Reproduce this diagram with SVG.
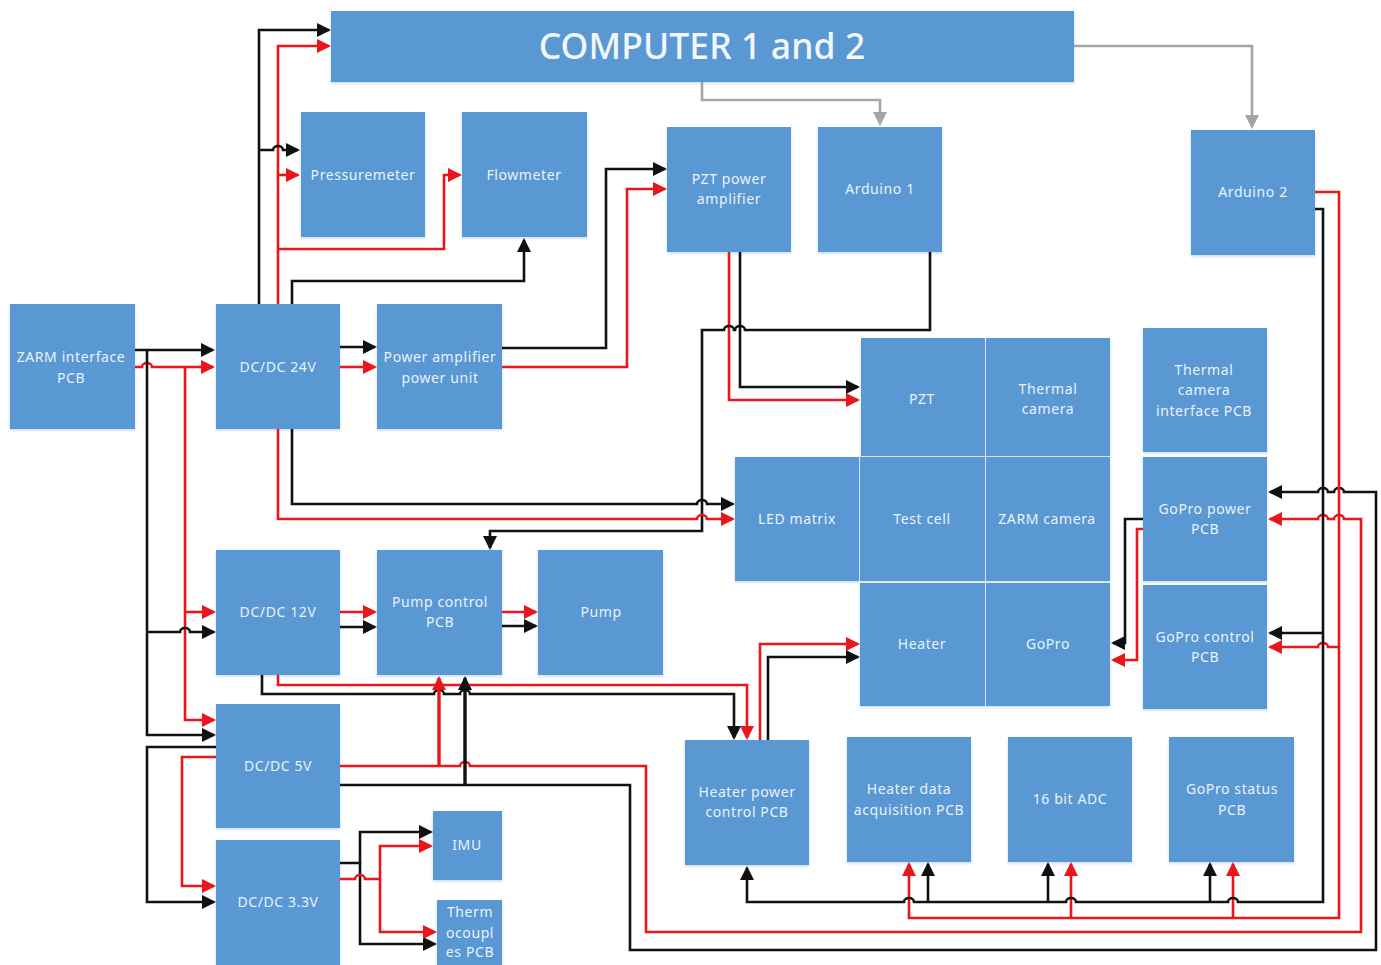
<svg xmlns="http://www.w3.org/2000/svg" width="1381" height="965" viewBox="0 0 1381 965">
<style>
.n{fill:#5a98d3;filter:url(#s)}
text{font-family:"Noto Sans","Open Sans","Liberation Sans",sans-serif;font-size:14px;letter-spacing:.6px;fill:#e9f2fa;text-anchor:middle}
.t{font-size:35.5px;letter-spacing:.1px;fill:#f2f7fc;font-weight:500}
path{fill:none;stroke-width:2.6;stroke-linejoin:miter}
.k{stroke:#111}.r{stroke:#e9161c}.g{stroke:#a5a5a5}
.ka{stroke:#111;marker-end:url(#mk)}.ra{stroke:#e9161c;marker-end:url(#mr)}.ga{stroke:#a5a5a5;marker-end:url(#mg)}
</style>
<defs>
<filter id="s" x="-5%" y="-5%" width="110%" height="112%"><feDropShadow dx="0" dy="1.5" stdDeviation="1.5" flood-color="#5b9bd5" flood-opacity=".35"/></filter>
<marker id="mk" markerUnits="userSpaceOnUse" markerWidth="16" markerHeight="15" refX="12" refY="7.5" orient="auto"><path d="M0,.5L14,7.5L0,14.5z" style="fill:#111;stroke:none"/></marker>
<marker id="mr" markerUnits="userSpaceOnUse" markerWidth="16" markerHeight="15" refX="12" refY="7.5" orient="auto"><path d="M0,.5L14,7.5L0,14.5z" style="fill:#e9161c;stroke:none"/></marker>
<marker id="mg" markerUnits="userSpaceOnUse" markerWidth="16" markerHeight="15" refX="12" refY="7.5" orient="auto"><path d="M0,.5L14,7.5L0,14.5z" style="fill:#a5a5a5;stroke:none"/></marker>
</defs>
<g id="computer"><rect class="n" x="331" y="11" width="743" height="71"/><text class="t" x="702" y="59">COMPUTER 1 and 2</text></g>
<g id="pressuremeter"><rect class="n" x="301" y="112" width="124" height="125"/><text x="363" y="180">Pressuremeter</text></g>
<g id="flowmeter"><rect class="n" x="462" y="112" width="125" height="125"/><text x="524" y="180">Flowmeter</text></g>
<g id="pzt-amp"><rect class="n" x="667" y="127" width="124" height="125"/><text x="729" y="184">PZT power</text><text x="729" y="204">amplifier</text></g>
<g id="arduino1"><rect class="n" x="818" y="127" width="124" height="125"/><text x="880" y="194">Arduino 1</text></g>
<g id="arduino2"><rect class="n" x="1191" y="130" width="124" height="125"/><text x="1253" y="197">Arduino 2</text></g>
<g id="zarm-pcb"><rect class="n" x="10" y="304" width="125" height="125"/><text x="71" y="362">ZARM interface</text><text x="71" y="383">PCB</text></g>
<g id="dc24"><rect class="n" x="216" y="304" width="124" height="125"/><text x="278" y="372">DC/DC 24V</text></g>
<g id="pump-amp"><rect class="n" x="377" y="304" width="125" height="125"/><text x="440" y="362">Power amplifier</text><text x="440" y="383">power unit</text></g>
<g id="pzt"><rect class="n" x="861" y="338" width="124" height="118"/><text x="922" y="404">PZT</text></g>
<g id="thermal-camera"><rect class="n" x="986" y="338" width="124" height="118"/><text x="1048" y="394">Thermal</text><text x="1048" y="414">camera</text></g>
<g id="thermal-pcb"><rect class="n" x="1143" y="328" width="124" height="124"/><text x="1204" y="375">Thermal</text><text x="1204" y="395">camera</text><text x="1204" y="416">interface PCB</text></g>
<g id="led"><rect class="n" x="735" y="457" width="124" height="124"/><text x="797" y="524">LED matrix</text></g>
<g id="test-cell"><rect class="n" x="860" y="457" width="125" height="124"/><text x="922" y="524">Test cell</text></g>
<g id="zarm-camera"><rect class="n" x="986" y="457" width="124" height="124"/><text x="1047" y="524">ZARM camera</text></g>
<g id="gopro-power"><rect class="n" x="1143" y="457" width="124" height="124"/><text x="1205" y="514">GoPro power</text><text x="1205" y="534">PCB</text></g>
<g id="dc12"><rect class="n" x="216" y="550" width="124" height="125"/><text x="278" y="617">DC/DC 12V</text></g>
<g id="pump-control"><rect class="n" x="377" y="550" width="125" height="125"/><text x="440" y="607">Pump control</text><text x="440" y="627">PCB</text></g>
<g id="pump"><rect class="n" x="538" y="550" width="125" height="125"/><text x="601" y="617">Pump</text></g>
<g id="heater"><rect class="n" x="860" y="583" width="125" height="123"/><text x="922" y="649">Heater</text></g>
<g id="gopro"><rect class="n" x="986" y="583" width="124" height="123"/><text x="1048" y="649">GoPro</text></g>
<g id="gopro-control"><rect class="n" x="1143" y="585" width="124" height="124"/><text x="1205" y="642">GoPro control</text><text x="1205" y="662">PCB</text></g>
<g id="dc5"><rect class="n" x="216" y="704" width="124" height="124"/><text x="278" y="771">DC/DC 5V</text></g>
<g id="heater-power"><rect class="n" x="685" y="740" width="124" height="125"/><text x="747" y="797">Heater power</text><text x="747" y="817">control PCB</text></g>
<g id="heater-data"><rect class="n" x="847" y="737" width="124" height="125"/><text x="909" y="794">Heater data</text><text x="909" y="815">acquisition PCB</text></g>
<g id="adc"><rect class="n" x="1008" y="737" width="124" height="125"/><text x="1070" y="804">16 bit ADC</text></g>
<g id="gopro-status"><rect class="n" x="1169" y="737" width="125" height="125"/><text x="1232" y="794">GoPro status</text><text x="1232" y="815">PCB</text></g>
<g id="dc33"><rect class="n" x="216" y="840" width="124" height="125"/><text x="278" y="907">DC/DC 3.3V</text></g>
<g id="imu"><rect class="n" x="433" y="811" width="69" height="69"/><text x="467" y="850">IMU</text></g>
<g id="thermocouples"><rect class="n" x="437" y="900" width="65" height="65"/><text x="470" y="917">Therm</text><text x="470" y="938">ocoupl</text><text x="470" y="957">es PCB</text></g>
<g id="connectors">
<path class="ga" d="M702,82V100H880V124"/>
<path class="ga" d="M1074,46H1252V127"/>
<path class="ra" d="M278,304V46H329"/>
<path class="ra" d="M278,175H298"/>
<path class="ra" d="M278,249H444V175H460"/>
<path class="ka" d="M259,304V30H329"/>
<path class="ka" d="M259,150H273a5,4 0 0 1 10,0H298"/>
<path class="ka" d="M292,304V281H524V240"/>
<path class="ka" d="M135,350H213"/>
<path class="ra" d="M135,367H142a5,4 0 0 1 10,0H213"/>
<path class="ra" d="M185,367V720H214"/>
<path class="ra" d="M185,612H214"/>
<path class="ka" d="M147,350V735H214"/>
<path class="ka" d="M147,632H180a5,4 0 0 1 10,0H214"/>
<path class="ka" d="M340,347H375"/>
<path class="ra" d="M340,367H375"/>
<path class="ka" d="M502,348H606V169H665"/>
<path class="ra" d="M502,367H627V189H665"/>
<path class="ra" d="M729,252V400H858"/>
<path class="ka" d="M740,252V387H858"/>
<path class="ka" d="M930,252V330H745a5,4 0 0 0 -10,0H734a5,4 0 0 0 -10,0H702V531H490V548"/>
<path class="ka" d="M292,429V504H697a5,4 0 0 1 10,0H733"/>
<path class="ra" d="M278,429V519H697a5,4 0 0 1 10,0H733"/>
<path class="ra" d="M340,612H375"/>
<path class="ka" d="M340,627H375"/>
<path class="ra" d="M502,612H536"/>
<path class="ka" d="M502,626H536"/>
<path class="ra" d="M278,675V685H747V738"/>
<path class="ka" d="M262,675V694H434a5,4 0 0 1 10,0H460a5,4 0 0 1 10,0H734V738"/>
<path class="ra" d="M340,766H460a5,4 0 0 1 10,0H646V932H1361V519H1344a5,4 0 0 0 -10,0H1328a5,4 0 0 0 -10,0H1270"/>
<path class="ka" d="M340,785H630V950H1376V492H1344a5,4 0 0 0 -10,0H1328a5,4 0 0 0 -10,0H1270"/>
<path class="ra" d="M439,766V678" style="stroke-width:3.4"/>
<path class="ka" d="M465,785V678" style="stroke-width:3.4"/>
<path class="ka" d="M216,747H147V902H214"/>
<path class="ra" d="M216,757H182V886H214"/>
<path class="ka" d="M340,863H360V832H431"/>
<path class="ka" d="M360,863V944H435"/>
<path class="ra" d="M340,879H355a5,4 0 0 1 10,0H380V846H431"/>
<path class="ra" d="M380,879V932H435"/>
<path class="ra" d="M760,740V644H858"/>
<path class="ka" d="M768,740V657H858"/>
<path class="ka" d="M1143,519H1125V643H1113"/>
<path class="ra" d="M1143,529H1137V660H1113"/>
<path class="ra" d="M1315,192H1339V918H909V864"/>
<path class="ra" d="M1071,918V864"/>
<path class="ra" d="M1233,918V864"/>
<path class="ra" d="M1339,647H1328a5,4 0 0 0 -10,0H1270"/>
<path class="ka" d="M1315,209H1323V902H1238a5,4 0 0 0 -10,0H1076a5,4 0 0 0 -10,0H914a5,4 0 0 0 -10,0H747V868"/>
<path class="ka" d="M1323,633H1270"/>
<path class="ka" d="M928,902V864"/>
<path class="ka" d="M1048,902V864"/>
<path class="ka" d="M1210,902V864"/>
</g>
</svg>
